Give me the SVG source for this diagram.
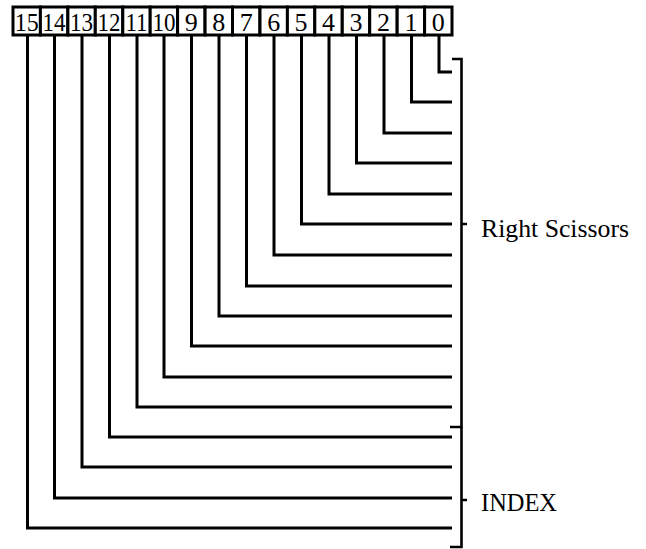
<svg xmlns="http://www.w3.org/2000/svg" width="646" height="549" viewBox="0 0 646 549">
<style>
.box{fill:#fff;stroke:#000;stroke-width:3}
.num{font-family:"Liberation Serif","Times New Roman",serif;font-size:26px;text-anchor:middle;fill:#000}
.lbl{font-family:"Liberation Serif","Times New Roman",serif;font-size:25px;fill:#000}
.wire{fill:none;stroke:#000;stroke-width:3;stroke-linejoin:miter;stroke-linecap:butt}
.br{fill:none;stroke:#000;stroke-width:2.6}
</style>
<rect width="646" height="549" fill="#fff"/>
<g id="connectors">
<path class="wire" d="M439 35V72H452"/>
<path class="wire" d="M411.5 35V102H452"/>
<path class="wire" d="M384 35V133H452"/>
<path class="wire" d="M356.5 35V163H452"/>
<path class="wire" d="M329 35V194H452"/>
<path class="wire" d="M301.5 35V224H452"/>
<path class="wire" d="M274 35V255H452"/>
<path class="wire" d="M246.5 35V286H452"/>
<path class="wire" d="M219 35V316H452"/>
<path class="wire" d="M191.5 35V346H452"/>
<path class="wire" d="M164 35V377H452"/>
<path class="wire" d="M137 35V407H452"/>
<path class="wire" d="M109.5 35V437H452"/>
<path class="wire" d="M82 35V467H452"/>
<path class="wire" d="M54.5 35V498H452"/>
<path class="wire" d="M27.5 35V528H452"/>
</g>
<g id="bit15"><rect class="box" x="13" y="7" width="27.4" height="28"/><text class="num" x="26.7" y="31" textLength="24" lengthAdjust="spacingAndGlyphs">15</text></g>
<g id="bit14"><rect class="box" x="40.4" y="7" width="27.4" height="28"/><text class="num" x="54.1" y="31" textLength="23" lengthAdjust="spacingAndGlyphs">14</text></g>
<g id="bit13"><rect class="box" x="67.9" y="7" width="27.4" height="28"/><text class="num" x="81.6" y="31" textLength="23" lengthAdjust="spacingAndGlyphs">13</text></g>
<g id="bit12"><rect class="box" x="95.3" y="7" width="27.4" height="28"/><text class="num" x="109" y="31" textLength="23" lengthAdjust="spacingAndGlyphs">12</text></g>
<g id="bit11"><rect class="box" x="122.8" y="7" width="27.4" height="28"/><text class="num" x="136.5" y="31" textLength="22" lengthAdjust="spacingAndGlyphs">11</text></g>
<g id="bit10"><rect class="box" x="150.2" y="7" width="27.4" height="28"/><text class="num" x="163.9" y="31" textLength="23" lengthAdjust="spacingAndGlyphs">10</text></g>
<g id="bit9"><rect class="box" x="177.6" y="7" width="27.4" height="28"/><text class="num" x="191.3" y="31">9</text></g>
<g id="bit8"><rect class="box" x="205.1" y="7" width="27.4" height="28"/><text class="num" x="218.8" y="31">8</text></g>
<g id="bit7"><rect class="box" x="232.5" y="7" width="27.4" height="28"/><text class="num" x="246.2" y="31">7</text></g>
<g id="bit6"><rect class="box" x="260" y="7" width="27.4" height="28"/><text class="num" x="273.7" y="31">6</text></g>
<g id="bit5"><rect class="box" x="287.4" y="7" width="27.4" height="28"/><text class="num" x="301.1" y="31">5</text></g>
<g id="bit4"><rect class="box" x="314.8" y="7" width="27.4" height="28"/><text class="num" x="328.5" y="31">4</text></g>
<g id="bit3"><rect class="box" x="342.3" y="7" width="27.4" height="28"/><text class="num" x="356" y="31">3</text></g>
<g id="bit2"><rect class="box" x="369.7" y="7" width="27.4" height="28"/><text class="num" x="383.4" y="31">2</text></g>
<g id="bit1"><rect class="box" x="397.2" y="7" width="27.4" height="28"/><text class="num" x="410.9" y="31">1</text></g>
<g id="bit0"><rect class="box" x="424.6" y="7" width="27.4" height="28"/><text class="num" x="438.3" y="31">0</text></g>
<g id="right-scissors">
<path class="br" d="M452 59H461.5V427H450M461.5 224H467"/>
<text class="lbl" x="481" y="237" textLength="148" lengthAdjust="spacingAndGlyphs">Right Scissors</text>
</g>
<g id="index">
<path class="br" d="M461.5 427V547H450M461.5 500H467"/>
<text class="lbl" x="481" y="511" textLength="76" lengthAdjust="spacingAndGlyphs">INDEX</text>
</g>
</svg>
